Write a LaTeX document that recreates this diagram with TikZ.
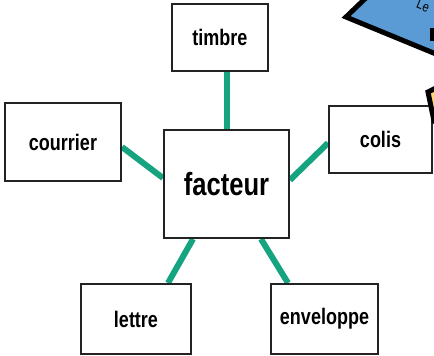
\documentclass[tikz,border=0pt]{standalone}
\usepackage{fontspec}
\setmainfont{Liberation Sans}[FakeStretch=0.8]
\usetikzlibrary{calc,backgrounds}
\pgfdeclarelayer{canvas}
\pgfsetlayers{canvas,background,main}
\definecolor{linkgreen}{RGB}{22,163,128}
\definecolor{boxline}{RGB}{35,35,35}
\definecolor{deco}{RGB}{91,155,213}
\definecolor{decoy}{RGB}{255,217,102}
\tikzset{
  wordbox/.style={draw=boxline, line width=2pt, fill=white, inner sep=0pt,
    font=\bfseries\fontsize{22.5}{26}\selectfont},
  centerbox/.style={wordbox, font=\bfseries\fontsize{32}{36}\selectfont},
  link/.style={draw=linkgreen, line width=6pt},
}
\begin{document}
\begin{tikzpicture}[x=1pt,y=-1pt]
\useasboundingbox (0,0) rectangle (434,356);
\begin{pgfonlayer}{canvas}
\fill[white] (0,0) rectangle (434,356);
\end{pgfonlayer}
\clip (0,0) rectangle (434,356);
\node[wordbox, minimum width=96pt, minimum height=67pt] (timbre) at (220,37.5) {timbre};
\node[wordbox, minimum width=116pt, minimum height=78pt] (courrier) at (63,142) {courrier};
\node[centerbox, minimum width=125pt, minimum height=108pt] (facteur) at (226.5,184) {facteur};
\node[wordbox, minimum width=103pt, minimum height=67pt] (colis) at (380.5,139.5) {colis};
\node[wordbox, minimum width=110pt, minimum height=70pt] (lettre) at (136,319) {lettre};
\node[wordbox, minimum width=107pt, minimum height=70pt] (enveloppe) at (324.5,319) {enveloppe};
\begin{scope}[on background layer]
  \draw[link] (facteur.north |- timbre.south) -- (facteur.north);
  \draw[link] ($(courrier.east)+(0,5)$) -- ($(facteur.west)+(0,-6)$);
  \draw[link] ($(colis.west)+(0,3.5)$) -- ($(facteur.east)+(0,-4)$);
  \draw[link] ($(lettre.north)+(32,0)$) -- ($(facteur.south)+(-33.5,0)$);
  \draw[link] ($(enveloppe.north)+(-36.5,0)$) -- ($(facteur.south)+(34.5,0)$);
\end{scope}
% decorations cut by the right edge
\draw[fill=deco, line width=5pt, line join=miter] (346,17) -- (372,-8) -- (470,-8) -- (470,68) -- cycle;
\node[rotate=-22, font=\fontsize{14}{16}\selectfont, anchor=west] (le) at (414,2) {Le};
\fill[black] (430,28) rectangle (436,41);
\draw[fill=decoy, line width=5pt, line join=miter] (428,92) -- (460,76) -- (460,140) -- (434,121) -- cycle;
\end{tikzpicture}
\end{document}
